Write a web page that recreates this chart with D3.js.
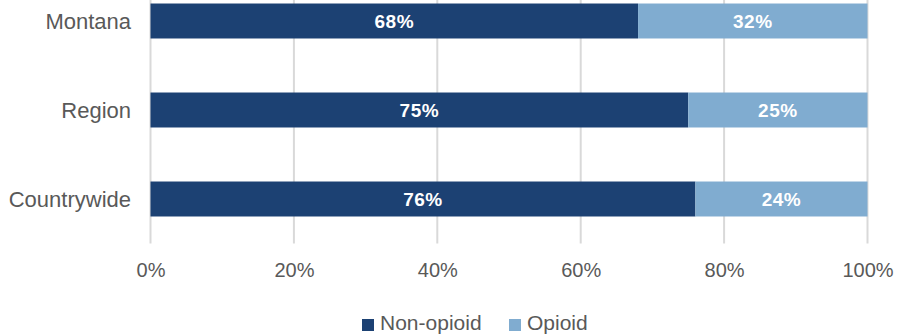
<!DOCTYPE html>
<html>
<head>
<meta charset="utf-8">
<script src="https://cdn.jsdelivr.net/npm/d3@7"></script>
<style>
  html, body { margin: 0; padding: 0; background: #fff; }
  svg { display: block; }
  text { font-family: "Liberation Sans", Arial, sans-serif; }
</style>
</head>
<body>
<svg id="chart" width="899" height="336"></svg>
<script>
// Share of prescriptions by type, per geography
const categories = ["Montana", "Region", "Countrywide"];
const nonOpioid = [68, 75, 76];
const opioid = [32, 25, 24];
const seriesNames = ["Non-opioid", "Opioid"];
const seriesColors = ["#1c4173", "#80acd0"];
const xTicks = [0, 20, 40, 60, 80, 100];

const svg = d3.select("#chart");

const x = d3.scaleLinear().domain([0, 100]).range([150.5, 867.5]);
const y = d3.scaleBand()
  .domain(categories)
  .range([-23.5, 243.5])
  .paddingInner(0.607)
  .paddingOuter(0.3035);

// vertical gridlines
svg.append("g")
  .selectAll("line")
  .data(xTicks)
  .join("line")
  .attr("x1", d => x(d)).attr("x2", d => x(d))
  .attr("y1", 0).attr("y2", 243.5)
  .attr("stroke", "#d9d9d9")
  .attr("stroke-width", 2);

// stacked bars
const rows = categories.map((c, i) => ({ cat: c, "Non-opioid": nonOpioid[i], "Opioid": opioid[i] }));
const stack = d3.stack().keys(seriesNames)(rows);

const layers = svg.append("g")
  .selectAll("g")
  .data(stack)
  .join("g")
  .attr("fill", (d, i) => seriesColors[i]);

layers.selectAll("rect")
  .data(d => d)
  .join("rect")
  .attr("x", d => x(d[0]))
  .attr("width", d => x(d[1]) - x(d[0]))
  .attr("y", d => y(d.data.cat))
  .attr("height", y.bandwidth());

// value labels
layers.selectAll("text")
  .data(d => d)
  .join("text")
  .attr("x", d => (x(d[0]) + x(d[1])) / 2)
  .attr("y", d => y(d.data.cat) + y.bandwidth() / 2)
  .attr("dy", "0.36em")
  .attr("text-anchor", "middle")
  .attr("fill", "#fff")
  .attr("font-weight", "bold")
  .attr("font-size", 19)
  .attr("letter-spacing", 0.5)
  .text(d => (d[1] - d[0]) + "%");

// category axis labels
svg.append("g")
  .selectAll("text")
  .data(categories)
  .join("text")
  .attr("x", 131)
  .attr("y", d => y(d) + y.bandwidth() / 2)
  .attr("dy", "0.36em")
  .attr("text-anchor", "end")
  .attr("fill", "#595959")
  .attr("font-size", 22)
  .text(d => d);

// x axis
const xAxis = d3.axisBottom(x)
  .tickValues(xTicks)
  .tickFormat(d => d + "%")
  .tickSize(0)
  .tickPadding(0);

const gx = svg.append("g")
  .attr("transform", "translate(0,263)")
  .call(xAxis);
gx.select(".domain").remove();
gx.selectAll("text")
  .attr("fill", "#595959")
  .attr("font-size", 20)
  .attr("font-family", "Liberation Sans, Arial, sans-serif");

// legend
const legendItems = [
  { name: seriesNames[0], color: seriesColors[0], x: 362 },
  { name: seriesNames[1], color: seriesColors[1], x: 509 }
];
const lg = svg.append("g")
  .selectAll("g")
  .data(legendItems)
  .join("g")
  .attr("transform", d => `translate(${d.x},319)`);
lg.append("rect")
  .attr("width", 12).attr("height", 12)
  .attr("fill", d => d.color);
lg.append("text")
  .attr("x", 18)
  .attr("y", 11)
  .attr("fill", "#595959")
  .attr("font-size", 21)
  .text(d => d.name);
</script>
</body>
</html>
